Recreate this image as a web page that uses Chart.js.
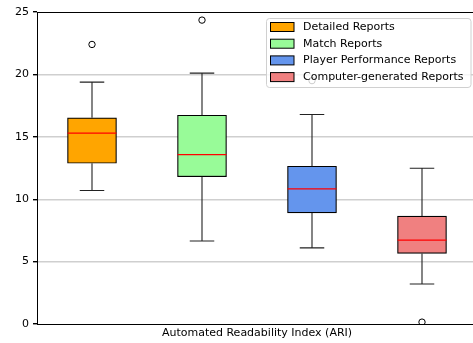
<!DOCTYPE html>
<html>
<head>
<meta charset="utf-8">
<script src="https://cdn.jsdelivr.net/npm/chart.js@4/dist/chart.umd.min.js"></script>
<style>
  html, body { margin: 0; padding: 0; background: #fff; overflow: hidden; }
  #wrap { width: 477px; height: 343px; }
</style>
</head>
<body>
<div id="wrap"><canvas id="c" width="477" height="343"></canvas></div>
<script>
// Box-plot summary per report type (ARI scores)
const categories = ['Detailed Reports', 'Match Reports', 'Player Performance Reports', 'Computer-generated Reports'];
const whiskerLow  = [10.7, 6.65, 6.1, 3.2];
const q1          = [12.88, 11.8, 8.9, 5.65];
const median      = [15.3, 13.57, 10.82, 6.72];
const q3          = [16.52, 16.73, 12.64, 8.65];
const whiskerHigh = [19.38, 20.1, 16.79, 12.48];
const outliers    = [[22.4], [24.35], [19.5], [0.15]];
const boxColors   = ['#FFA500', '#98FB98', '#6495ED', '#F08080'];
const yTicks      = [0, 5, 10, 15, 20, 25];
const xTitle      = 'Automated Readability Index (ARI)';

Chart.defaults.font.family = 'DejaVu Sans';
Chart.defaults.font.size = 11;
Chart.defaults.color = '#000';

// One floating-bar dataset per report type so each gets its own legend entry
const datasets = categories.map((name, i) => ({
  label: name,
  data: categories.map((_, j) => (j === i ? [q1[i], q3[i]] : null)),
  backgroundColor: boxColors[i],
  borderColor: '#000',
  borderWidth: 1.2,
  borderSkipped: false,
  grouped: false,
  barThickness: 49
}));

// Whiskers, medians and fliers drawn on the chart's own scales
const boxExtras = {
  id: 'boxExtras',
  afterDatasetsDraw(chart) {
    const ctx = chart.ctx;
    const xs = chart.scales.x, ys = chart.scales.y;
    const area = chart.chartArea;
    ctx.save();
    ctx.beginPath();
    ctx.rect(area.left, area.top, area.right - area.left, area.bottom - area.top);
    ctx.clip();
    categories.forEach((_, i) => {
      const x = xs.getPixelForValue(i);
      const bar = chart.getDatasetMeta(i).data[i];
      const halfBox = bar.width / 2;
      const halfCap = bar.width / 4;
      const yLo = ys.getPixelForValue(whiskerLow[i]);
      const yHi = ys.getPixelForValue(whiskerHigh[i]);
      const yQ1 = ys.getPixelForValue(q1[i]);
      const yQ3 = ys.getPixelForValue(q3[i]);
      const yMed = ys.getPixelForValue(median[i]);

      ctx.strokeStyle = '#222';
      ctx.lineWidth = 1.1;
      ctx.beginPath();
      ctx.moveTo(x, yQ3); ctx.lineTo(x, yHi);
      ctx.moveTo(x, yQ1); ctx.lineTo(x, yLo);
      ctx.moveTo(x - halfCap, yHi); ctx.lineTo(x + halfCap, yHi);
      ctx.moveTo(x - halfCap, yLo); ctx.lineTo(x + halfCap, yLo);
      ctx.stroke();

      ctx.strokeStyle = '#ff0000';
      ctx.lineWidth = 1.2;
      ctx.beginPath();
      ctx.moveTo(x - halfBox, yMed); ctx.lineTo(x + halfBox, yMed);
      ctx.stroke();

      ctx.strokeStyle = '#000';
      ctx.lineWidth = 1;
      outliers[i].forEach(v => {
        const y = ys.getPixelForValue(v);
        ctx.beginPath();
        ctx.arc(x, y, 3.2, 0, Math.PI * 2);
        ctx.stroke();
      });
    });
    ctx.restore();

    // top spine
    ctx.save();
    ctx.strokeStyle = '#000';
    ctx.lineWidth = 1;
    ctx.beginPath();
    ctx.moveTo(area.left, Math.round(area.top) + 0.5);
    ctx.lineTo(area.right, Math.round(area.top) + 0.5);
    ctx.stroke();
    ctx.restore();
  }
};

// Framed legend in the upper right of the plot
const boxLegend = {
  id: 'boxLegend',
  afterDraw(chart) {
    const ctx = chart.ctx;
    const left = 266.5, top = 18.5, w = 204.5, h = 69, r = 3;
    ctx.save();
    ctx.beginPath();
    ctx.roundRect(left, top, w, h, r);
    ctx.fillStyle = 'rgba(255,255,255,0.8)';
    ctx.fill();
    ctx.strokeStyle = '#d0d0d0';
    ctx.lineWidth = 1;
    ctx.stroke();
    ctx.font = '11px "DejaVu Sans"';
    ctx.textBaseline = 'middle';
    ctx.textAlign = 'left';
    chart.data.datasets.forEach((ds, i) => {
      const cy = 27 + i * 16.7;
      ctx.fillStyle = ds.backgroundColor;
      ctx.fillRect(270.5, cy - 4.5, 23.5, 9);
      ctx.strokeStyle = '#000';
      ctx.lineWidth = 1;
      ctx.strokeRect(270.5, cy - 4.5, 23.5, 9);
      ctx.fillStyle = '#000';
      ctx.fillText(ds.label, 303, cy);
    });
    ctx.restore();
  }
};

new Chart(document.getElementById('c'), {
  type: 'bar',
  data: { labels: categories, datasets },
  options: {
    responsive: false,
    animation: false,
    layout: { padding: { top: 12, right: 0, bottom: 0, left: 0 } },
    plugins: { legend: { display: false }, tooltip: { enabled: false } },
    scales: {
      x: {
        offset: true,
        ticks: { display: false },
        grid: { display: false, drawTicks: false },
        border: { display: true, color: '#000', width: 1 },
        title: { display: true, text: xTitle, padding: { top: 0, bottom: 3 }, font: { size: 11 }, color: '#000' },
        afterFit(scale) { scale.height = 19; }
      },
      y: {
        min: 0,
        max: 25,
        afterBuildTicks(scale) { scale.ticks = yTicks.map(v => ({ value: v })); },
        ticks: { padding: 4, color: '#000', font: { size: 11 } },
        grid: {
          color: ctx => (ctx.tick && (ctx.tick.value === 0 || ctx.tick.value === 25)) ? 'rgba(0,0,0,0)' : '#cfcfcf',
          lineWidth: 1.4,
          tickColor: '#000',
          tickLength: 4,
          drawTicks: true
        },
        border: { display: true, color: '#000', width: 1 },
        afterFit(scale) { scale.width = 37; }
      }
    }
  },
  plugins: [boxExtras, boxLegend]
});
</script>
</body>
</html>
